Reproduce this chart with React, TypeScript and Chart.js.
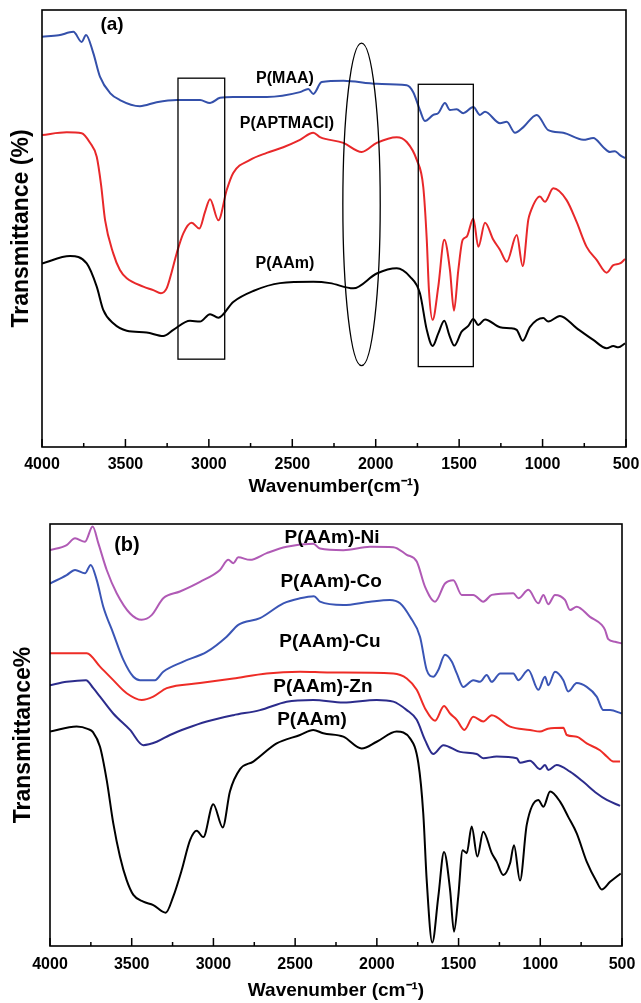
import React, { useEffect, useRef } from "react";
import { Chart, registerables } from "chart.js";

Chart.register(...registerables);

const FONT = '"Liberation Sans", Arial, Helvetica, sans-serif';

// ---------- axis ticks ----------
const xMajor = [4000, 3500, 3000, 2500, 2000, 1500, 1000, 500];
const xMinor = [3750, 3250, 2750, 2250, 1750, 1250, 750];

// ---------- panel (a) ----------
const maaWn = [4000, 3900, 3812, 3762, 3736, 3693, 3652, 3592, 3533, 3413, 3313, 3193, 3053, 2993, 2933, 2854, 2653, 2454, 2404, 2374, 2324, 2194, 1994, 1814, 1775, 1735, 1705, 1655, 1625, 1585, 1555, 1515, 1475, 1415, 1375, 1345, 1255, 1215, 1165, 1115, 1035, 966, 876, 756, 696, 636, 596, 566, 536, 506];
const maaT = [93.9, 94.2, 95.0, 92.7, 94.3, 90.2, 84.7, 81.0, 79.4, 78.0, 78.9, 79.4, 79.4, 78.7, 79.9, 80.1, 80.1, 81.2, 81.9, 80.8, 83.5, 83.8, 83.1, 82.8, 81.2, 77.1, 74.6, 76.0, 76.4, 78.7, 77.1, 77.3, 76.4, 77.8, 76.0, 76.7, 74.1, 74.4, 71.9, 73.2, 76.0, 72.5, 71.9, 70.3, 70.7, 68.6, 67.5, 67.7, 66.8, 66.1];

const aptWn = [4000, 3852, 3762, 3712, 3672, 3646, 3622, 3573, 3533, 3492, 3393, 3333, 3287, 3253, 3223, 3193, 3153, 3103, 3057, 3023, 2993, 2943, 2893, 2854, 2753, 2653, 2554, 2454, 2374, 2334, 2194, 2084, 1994, 1874, 1814, 1754, 1715, 1694, 1681, 1659, 1625, 1589, 1555, 1531, 1505, 1479, 1455, 1415, 1385, 1345, 1295, 1255, 1215, 1155, 1119, 1086, 1075, 1016, 986, 936, 856, 796, 736, 676, 616, 576, 536, 506];
const aptT = [71.4, 72.0, 71.8, 69.6, 66.4, 60.0, 51.9, 44.3, 40.5, 38.6, 36.7, 35.9, 35.2, 36.3, 40.0, 44.3, 48.9, 51.3, 50.0, 53.8, 56.7, 51.9, 58.8, 62.7, 65.7, 67.3, 68.6, 70.3, 71.9, 70.9, 69.6, 67.5, 69.6, 70.9, 69.8, 65.7, 59.5, 47.4, 35.9, 29.1, 36.7, 47.4, 40.5, 31.2, 40.5, 47.4, 48.1, 52.3, 45.8, 51.3, 47.4, 45.1, 42.4, 48.5, 41.4, 51.9, 53.5, 57.3, 56.1, 59.2, 56.5, 51.5, 45.8, 42.8, 39.9, 41.6, 42.0, 43.0];

const aamAWn = [4000, 3832, 3732, 3672, 3633, 3573, 3492, 3373, 3273, 3213, 3113, 3053, 2993, 2943, 2854, 2734, 2574, 2374, 2274, 2134, 1994, 1874, 1795, 1735, 1694, 1659, 1625, 1589, 1559, 1529, 1485, 1445, 1415, 1385, 1345, 1255, 1195, 1155, 1119, 1075, 996, 966, 896, 796, 696, 616, 576, 546, 506];
const aamAT = [42.0, 43.7, 42.0, 36.7, 31.4, 28.3, 26.6, 26.2, 25.4, 26.8, 28.9, 28.7, 30.4, 29.6, 33.2, 35.7, 37.5, 37.8, 37.5, 36.3, 39.7, 40.9, 39.0, 35.2, 26.8, 23.1, 26.0, 28.9, 25.6, 23.2, 26.4, 27.7, 29.3, 27.9, 29.2, 27.4, 27.2, 26.8, 24.3, 27.5, 29.5, 28.7, 30.0, 27.2, 24.5, 22.6, 23.1, 22.8, 23.7];

// ---------- panel (b) ----------
const niWn = [4000, 3898, 3847, 3786, 3739, 3704, 3653, 3592, 3510, 3439, 3378, 3307, 3205, 3082, 2960, 2909, 2878, 2848, 2776, 2674, 2552, 2389, 2348, 2205, 2042, 1899, 1817, 1756, 1705, 1644, 1583, 1532, 1481, 1410, 1349, 1297, 1165, 1134, 1073, 1012, 981, 951, 910, 849, 818, 777, 696, 624, 604, 584, 543, 502];
const niT = [93.8, 95.0, 96.6, 95.8, 99.4, 95.4, 89.1, 83.6, 78.8, 77.3, 78.4, 82.4, 84.0, 86.3, 89.1, 91.5, 90.7, 92.1, 91.5, 93.1, 94.6, 95.3, 94.2, 93.8, 94.6, 94.5, 92.7, 91.1, 85.1, 81.6, 85.9, 86.7, 83.2, 83.2, 81.6, 83.2, 83.6, 82.4, 84.4, 81.2, 83.2, 81.0, 83.2, 82.0, 79.6, 80.4, 78.0, 76.1, 74.9, 72.7, 72.1, 71.7];

const coWn = [4000, 3898, 3847, 3786, 3751, 3714, 3674, 3613, 3551, 3490, 3449, 3358, 3307, 3184, 3041, 2919, 2848, 2715, 2572, 2470, 2385, 2348, 2205, 2042, 1920, 1858, 1797, 1736, 1695, 1655, 1624, 1583, 1542, 1511, 1471, 1410, 1369, 1328, 1297, 1246, 1165, 1134, 1073, 1012, 971, 951, 910, 859, 829, 777, 716, 655, 614, 573, 502];
const coT = [85.9, 87.9, 89.1, 88.3, 90.3, 86.7, 80.4, 74.1, 67.8, 63.8, 63.0, 63.0, 65.0, 67.4, 69.7, 73.3, 76.1, 77.7, 81.2, 82.4, 82.9, 81.6, 80.8, 81.6, 82.0, 81.2, 78.0, 73.3, 65.4, 63.8, 65.4, 69.0, 67.4, 64.6, 61.4, 63.0, 62.6, 64.2, 62.6, 64.6, 64.6, 63.0, 65.4, 60.7, 63.8, 61.8, 65.0, 63.0, 60.3, 62.3, 61.4, 59.1, 55.9, 55.9, 55.1];

const cuWn = [4000, 3775, 3694, 3613, 3531, 3439, 3368, 3286, 3082, 2878, 2674, 2470, 2287, 2205, 1899, 1817, 1756, 1705, 1644, 1589, 1552, 1511, 1465, 1410, 1349, 1297, 1185, 1063, 1002, 953, 859, 838, 777, 716, 635, 593, 553, 512];
const cuT = [69.4, 69.4, 66.2, 63.0, 59.9, 58.3, 59.1, 61.1, 62.3, 63.4, 64.6, 65.0, 64.8, 64.8, 64.6, 63.4, 60.7, 56.3, 53.4, 56.9, 55.1, 53.6, 51.2, 54.3, 53.2, 54.7, 52.0, 51.2, 50.8, 51.5, 51.7, 50.0, 49.6, 48.0, 46.4, 44.9, 43.7, 43.7];

const znWn = [4000, 3898, 3780, 3735, 3694, 3613, 3510, 3429, 3347, 3266, 3164, 3041, 2878, 2715, 2552, 2389, 2205, 2001, 1899, 1817, 1756, 1705, 1655, 1593, 1491, 1389, 1349, 1267, 1144, 1124, 1063, 1002, 971, 951, 900, 818, 737, 655, 593, 512];
const znT = [61.8, 62.6, 63.0, 61.1, 59.1, 55.1, 51.2, 47.6, 48.4, 50.0, 51.6, 53.2, 54.7, 55.9, 57.9, 58.3, 57.7, 58.3, 57.9, 55.9, 53.6, 48.8, 45.5, 47.6, 46.0, 45.5, 44.5, 44.9, 44.5, 43.4, 43.9, 41.9, 42.9, 41.7, 42.9, 41.3, 38.9, 36.2, 34.6, 33.2];

const aamBWn = [4000, 3837, 3766, 3737, 3694, 3653, 3613, 3572, 3531, 3490, 3429, 3368, 3292, 3246, 3194, 3143, 3102, 3062, 3001, 2943, 2899, 2837, 2756, 2613, 2470, 2389, 2328, 2205, 2093, 2001, 1879, 1797, 1746, 1716, 1695, 1661, 1624, 1589, 1552, 1528, 1502, 1475, 1450, 1420, 1385, 1349, 1297, 1267, 1226, 1185, 1161, 1124, 1083, 1012, 981, 940, 879, 829, 777, 716, 655, 624, 573, 508];
const aamBT = [50.8, 52.0, 51.4, 50.7, 47.2, 39.3, 29.1, 21.2, 15.6, 12.1, 10.5, 9.7, 7.9, 11.7, 18.0, 25.1, 27.3, 25.8, 33.6, 28.1, 36.6, 41.9, 43.7, 48.0, 50.0, 51.2, 50.4, 49.6, 46.8, 48.4, 50.8, 49.2, 43.3, 31.4, 15.6, 0.8, 11.7, 22.3, 13.3, 3.4, 11.7, 22.7, 22.0, 28.3, 21.2, 27.1, 22.0, 20.0, 16.8, 19.6, 23.9, 15.5, 28.7, 34.6, 33.0, 36.6, 34.2, 30.6, 26.7, 20.0, 15.2, 13.4, 15.2, 17.2];

// ---------- annotations (data units: wavenumber, transmittance) ----------
type Lbl = { text: string; wn: number; t: number; size: number };
const labelsA: Lbl[] = [
  { text: "(a)", wn: 3580, t: 96.6, size: 19 },
  { text: "P(MAA)", wn: 2544, t: 84.4, size: 16 },
  { text: "P(APTMACl)", wn: 2532, t: 74.1, size: 16 },
  { text: "P(AAm)", wn: 2544, t: 41.9, size: 16 },
];
const labelsB: Lbl[] = [
  { text: "(b)", wn: 3529, t: 95.0, size: 20 },
  { text: "P(AAm)-Ni", wn: 2274, t: 96.7, size: 19 },
  { text: "P(AAm)-Co", wn: 2280, t: 86.3, size: 19 },
  { text: "P(AAm)-Cu", wn: 2287, t: 72.0, size: 19 },
  { text: "P(AAm)-Zn", wn: 2330, t: 61.4, size: 19 },
  { text: "P(AAm)", wn: 2397, t: 53.6, size: 19 },
];
const boxesA = [
  { wn1: 3185, wn2: 2905, t1: 84.4, t2: 20.1 },
  { wn1: 1745, wn2: 1415, t1: 83.0, t2: 18.4 },
];
const ellipsesA = [{ wn: 2085, t: 55.5, rWn: 112, rT: 36.9 }];

type Series = { wn: number[]; t: number[]; color: string; width: number };

const seriesA: Series[] = [
  { wn: maaWn, t: maaT, color: "#3450aa", width: 2 },
  { wn: aptWn, t: aptT, color: "#e8282a", width: 2 },
  { wn: aamAWn, t: aamAT, color: "#000000", width: 2 },
];
const seriesB: Series[] = [
  { wn: niWn, t: niT, color: "#b05ab5", width: 2 },
  { wn: coWn, t: coT, color: "#3a55b5", width: 2 },
  { wn: cuWn, t: cuT, color: "#ee2c26", width: 2 },
  { wn: znWn, t: znT, color: "#2c2c8c", width: 2 },
  { wn: aamBWn, t: aamBT, color: "#000000", width: 2 },
];

type Panel = {
  series: Series[];
  labels: Lbl[];
  boxes: typeof boxesA;
  ellipses: typeof ellipsesA;
  xTitle: string;
  yTitle: string;
  padTop: number;
  padRight: number;
  yW: number;
  xH: number;
  tickPad: number;
  xTitlePad: number;
  yTitlePad: number;
};

function makeDecor(p: Panel) {
  return {
    id: "decor",
    afterDatasetsDraw(chart: any) {
      const { ctx, chartArea: a, scales } = chart;
      const x = scales.x;
      const y = scales.y;
      ctx.save();
      ctx.strokeStyle = "#000";
      ctx.lineWidth = 1.6;
      ctx.strokeRect(a.left, a.top, a.right - a.left, a.bottom - a.top);
      ctx.lineWidth = 1.5;
      ctx.beginPath();
      for (const v of xMajor) {
        const px = x.getPixelForValue(v);
        ctx.moveTo(px, a.bottom);
        ctx.lineTo(px, a.bottom - 8);
      }
      for (const v of xMinor) {
        const px = x.getPixelForValue(v);
        ctx.moveTo(px, a.bottom);
        ctx.lineTo(px, a.bottom - 4);
      }
      ctx.stroke();
      ctx.lineWidth = 1.3;
      for (const b of p.boxes) {
        const x1 = x.getPixelForValue(b.wn1);
        const x2 = x.getPixelForValue(b.wn2);
        const y1 = y.getPixelForValue(b.t1);
        const y2 = y.getPixelForValue(b.t2);
        ctx.strokeRect(x1, y1, x2 - x1, y2 - y1);
      }
      for (const e of p.ellipses) {
        const cx = x.getPixelForValue(e.wn);
        const cy = y.getPixelForValue(e.t);
        const rx = Math.abs(x.getPixelForValue(e.wn + e.rWn) - cx);
        const ry = Math.abs(y.getPixelForValue(e.t + e.rT) - cy);
        ctx.beginPath();
        ctx.ellipse(cx, cy, rx, ry, 0, 0, Math.PI * 2);
        ctx.stroke();
      }
      ctx.fillStyle = "#000";
      ctx.textAlign = "center";
      ctx.textBaseline = "middle";
      for (const l of p.labels) {
        ctx.font = `bold ${l.size}px ${FONT}`;
        ctx.fillText(l.text, x.getPixelForValue(l.wn), y.getPixelForValue(l.t));
      }
      ctx.restore();
    },
  };
}

function makeConfig(p: Panel): any {
  return {
    type: "line",
    data: {
      datasets: p.series.map((s) => ({
        data: s.wn.map((w, i) => ({ x: w, y: s.t[i] })),
        borderColor: s.color,
        borderWidth: s.width,
        pointRadius: 0,
        fill: false,
        cubicInterpolationMode: "monotone",
      })),
    },
    options: {
      animation: false,
      responsive: true,
      maintainAspectRatio: false,
      layout: { padding: { top: p.padTop, right: p.padRight, left: 0, bottom: 0 } },
      plugins: { legend: { display: false }, tooltip: { enabled: false } },
      scales: {
        x: {
          type: "linear",
          min: 500,
          max: 4000,
          reverse: true,
          afterBuildTicks: (s: any) => {
            s.ticks = xMajor.map((v) => ({ value: v }));
          },
          afterFit: (s: any) => {
            s.height = p.xH;
            s.paddingLeft = 0;
            s.paddingRight = 0;
          },
          ticks: {
            autoSkip: false,
            maxRotation: 0,
            padding: p.tickPad,
            color: "#000",
            font: { family: FONT, size: 16, weight: "bold" },
            callback: (v: any) => String(v),
          },
          grid: { display: false, drawTicks: false },
          border: { display: false },
          title: {
            display: true,
            text: p.xTitle,
            color: "#000",
            font: { family: FONT, size: 19, weight: "bold" },
            padding: { top: 0, bottom: p.xTitlePad },
          },
        },
        y: {
          type: "linear",
          min: 0,
          max: 100,
          afterFit: (s: any) => {
            s.width = p.yW;
            s.paddingTop = 0;
            s.paddingBottom = 0;
          },
          ticks: { display: false },
          grid: { display: false, drawTicks: false },
          border: { display: false },
          title: {
            display: true,
            text: p.yTitle,
            color: "#000",
            font: { family: FONT, size: 23, weight: "bold" },
            padding: { top: p.yTitlePad, bottom: 0 },
          },
        },
      },
    },
    plugins: [makeDecor(p)],
  };
}

const panelA: Panel = {
  series: seriesA,
  labels: labelsA,
  boxes: boxesA,
  ellipses: ellipsesA,
  xTitle: "Wavenumber(cm\u207B\u00B9)",
  yTitle: "Transmittance (%)",
  padTop: 10,
  padRight: 15,
  yW: 42,
  xH: 53,
  tickPad: 8,
  xTitlePad: 2,
  yTitlePad: 8,
};

const panelB: Panel = {
  series: seriesB,
  labels: labelsB,
  boxes: [],
  ellipses: [],
  xTitle: "Wavenumber (cm\u207B\u00B9)",
  yTitle: "Transmittance%",
  padTop: 24,
  padRight: 19,
  yW: 50,
  xH: 57,
  tickPad: 9,
  xTitlePad: 1,
  yTitlePad: 10,
};

function PanelChart({ panel, top, height }: { panel: Panel; top: number; height: number }) {
  const ref = useRef<HTMLCanvasElement | null>(null);
  useEffect(() => {
    if (!ref.current) return;
    const chart = new Chart(ref.current, makeConfig(panel));
    return () => chart.destroy();
  }, [panel]);
  return (
    <div style={{ position: "absolute", left: 0, top, width: 641, height }}>
      <canvas ref={ref} />
    </div>
  );
}

export default function App() {
  return (
    <div style={{ position: "absolute", left: 0, top: 0, width: 641, height: 1003, background: "#fff" }}>
      <PanelChart panel={panelA} top={0} height={500} />
      <PanelChart panel={panelB} top={500} height={503} />
    </div>
  );
}
